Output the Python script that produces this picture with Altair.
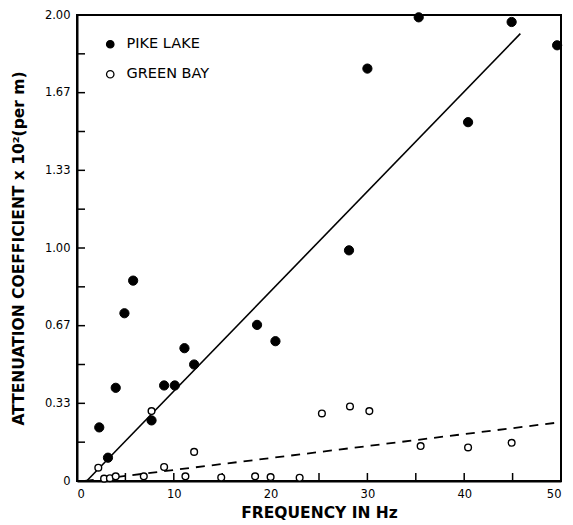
import altair as alt
import pandas as pd

# Pike Lake (filled circles)
pike_f = [2.3, 3.2, 4.0, 4.9, 5.8, 7.7, 9.0, 10.1, 11.1, 12.1, 18.6, 20.5, 28.1, 30.0, 35.3, 40.4, 44.9, 49.6]
pike_a = [0.23, 0.10, 0.40, 0.72, 0.86, 0.26, 0.41, 0.41, 0.57, 0.50, 0.67, 0.60, 0.99, 1.77, 1.99, 1.54, 1.97, 1.87]

# Green Bay (open circles)
green_f = [2.2, 2.8, 3.4, 4.0, 6.9, 7.7, 9.0, 11.2, 12.1, 14.9, 18.4, 20.0, 23.0, 25.3, 28.2, 30.2, 35.5, 40.4, 44.9]
green_a = [0.057, 0.01, 0.012, 0.02, 0.02, 0.30, 0.06, 0.02, 0.125, 0.015, 0.02, 0.017, 0.014, 0.29, 0.32, 0.30, 0.15, 0.144, 0.164]

# fitted lines (endpoints)
pike_fit_f = [1.0, 45.8]
pike_fit_a = [0.0, 1.92]
green_fit_f = [0.8, 49.5]
green_fit_a = [0.0, 0.25]

# axes
x_ticks = [5, 10, 15, 20, 25, 30, 35, 40, 45]
x_labels = [0, 10, 20, 30, 40, 50]
y_ticks = [1/6, 2/6, 3/6, 4/6, 5/6, 1.0, 7/6, 8/6, 9/6, 10/6, 11/6]
y_labels = [0, 1/3, 2/3, 1.0, 4/3, 5/3, 2.0]
y_label_text = ["0", "0.33", "0.67", "1.00", "1.33", "1.67", "2.00"]

series = ["PIKE LAKE", "GREEN BAY"]

pts = pd.DataFrame(
    {"f": pike_f + green_f, "a": pike_a + green_a,
     "s": ["PIKE LAKE"] * len(pike_f) + ["GREEN BAY"] * len(green_f)}
)
fit1 = pd.DataFrame({"f": pike_fit_f, "a": pike_fit_a})
fit2 = pd.DataFrame({"f": green_fit_f, "a": green_fit_a})
xt = pd.DataFrame({"f": x_ticks})
yt = pd.DataFrame({"a": y_ticks})

W, H = 484, 466
FONT = "DejaVu Sans"

# label text chosen from y_label_text by index of nearest major value
label_expr = "[" + ",".join(f"'{t}'" for t in y_label_text) + "][round(datum.value * 3)]"

xscale = alt.Scale(domain=[0, 50], nice=False, zero=True)
yscale = alt.Scale(domain=[0, 2], nice=False, zero=True)

xaxis = alt.Axis(values=x_labels, title="FREQUENCY IN Hz", grid=False, ticks=False,
                 labelPadding=7, titlePadding=6, format="d")
yaxis = alt.Axis(values=y_labels, title="ATTENUATION COEFFICIENT x 10²(per m)", grid=False,
                 ticks=False, labelPadding=7, titlePadding=18, labelExpr=label_expr)

fill_scale = alt.Scale(domain=series, range=["black", "white"])

filled = alt.Chart(pts).transform_filter(alt.datum.s == "PIKE LAKE").mark_circle(
    size=85, opacity=1, stroke="black", strokeWidth=1
).encode(
    x=alt.X("f:Q", scale=xscale, axis=xaxis),
    y=alt.Y("a:Q", scale=yscale, axis=yaxis),
    fill=alt.Fill("s:N", scale=fill_scale, title=None,
                  legend=alt.Legend(orient="none", legendX=26, legendY=22,
                                    symbolType="circle", symbolSize=55,
                                    symbolStrokeColor="black", symbolStrokeWidth=1.3,
                                    labelFontSize=14.5, labelFont=FONT, labelColor="black",
                                    labelFontWeight=500,
                                    labelOffset=9, rowPadding=15, padding=0)),
)
opened = alt.Chart(pts).transform_filter(alt.datum.s == "GREEN BAY").mark_circle(
    size=45, opacity=1, stroke="black", strokeWidth=1.4
).encode(
    x="f:Q", y="a:Q",
    fill=alt.Fill("s:N", scale=fill_scale),
)

line1 = alt.Chart(fit1).mark_line(color="black", strokeWidth=1.6).encode(x="f:Q", y="a:Q")
line2 = alt.Chart(fit2).mark_line(color="black", strokeWidth=1.8, strokeDash=[9, 7]).encode(x="f:Q", y="a:Q")

xtick = alt.Chart(xt).mark_rule(color="black", strokeWidth=1.5).encode(
    x="f:Q", y=alt.value(H), y2=alt.value(H - 8)
)
ytick = alt.Chart(yt).mark_rule(color="black", strokeWidth=1.5).encode(
    y="a:Q", x=alt.value(0), x2=alt.value(8)
)

chart = alt.layer(line2, line1, xtick, ytick, opened, filled).properties(
    width=W, height=H,
    padding={"left": 69, "top": 7, "right": 4, "bottom": 44},
    autosize=alt.AutoSizeParams(type="none"),
    background="white",
).configure_view(
    stroke="black", strokeWidth=2
).configure_axis(
    domainColor="black", domainWidth=2,
    labelFont=FONT, labelFontSize=11.5, labelColor="black",
    titleFont=FONT, titleFontSize=15.5, titleFontWeight="bold", titleColor="black",
)

chart.save("out.html", embed_options={"renderer": "svg", "actions": False})
